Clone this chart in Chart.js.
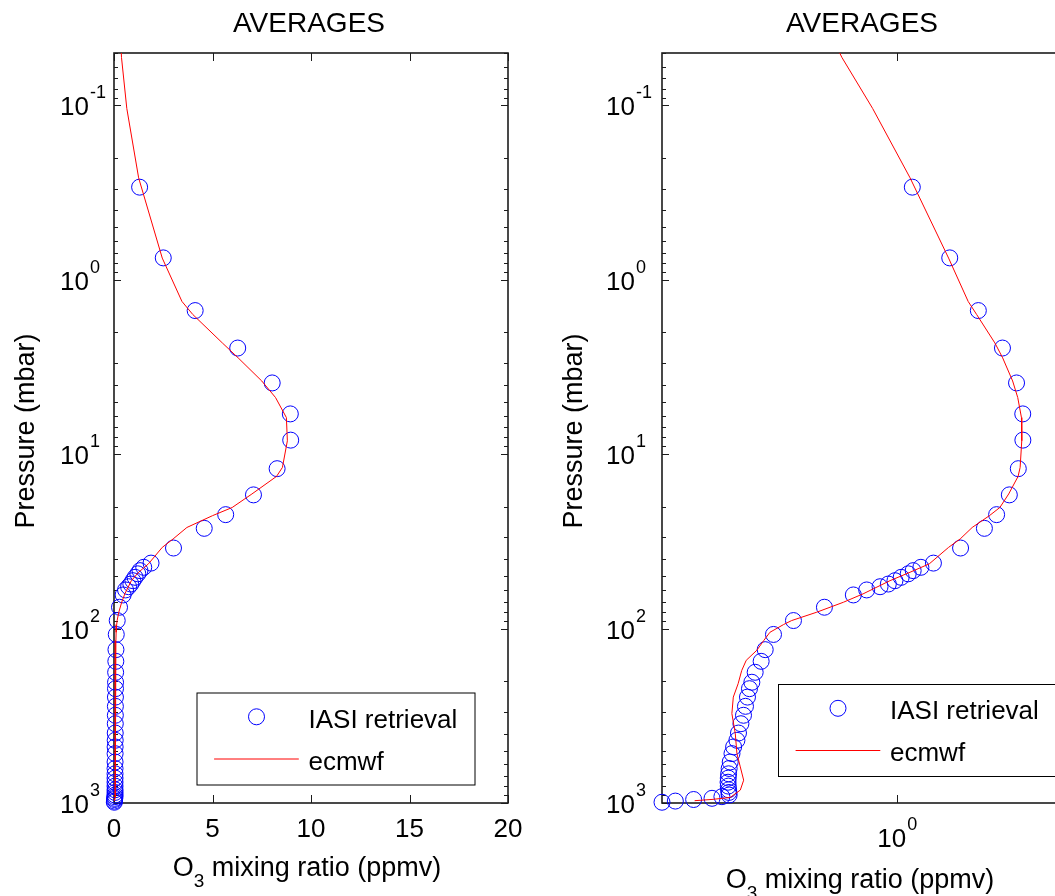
<!DOCTYPE html>
<html>
<head>
<meta charset="utf-8">
<title>AVERAGES – O3 profiles</title>
<script src="https://cdn.jsdelivr.net/npm/chart.js@4.4.1/dist/chart.umd.min.js"></script>
<style>
  html, body { margin: 0; padding: 0; background: #ffffff; overflow: hidden; }
  #wrap { position: relative; width: 1055px; height: 896px; overflow: hidden; background: #ffffff; }
  #wrap canvas { position: absolute; top: 0; }
  #linPanel { left: 0; }
  #logPanel { left: 540px; }
</style>
</head>
<body>
<div id="wrap">
  <canvas id="linPanel" width="540" height="896"></canvas>
  <canvas id="logPanel" width="560" height="896"></canvas>
</div>
<script>
// ---- Profile data: pressure levels (mbar) and ozone mixing ratio (ppmv) ----
const IASI_PRESSURE = [
  0.294, 0.748, 1.50, 2.46, 3.90, 5.87, 8.30, 12.1, 17.1, 22.2, 26.6, 34.5,
  42.1, 44.5, 46.5, 48.5, 50.8, 53.1, 55.5, 57.5, 60.0, 64.1, 75.4, 89.9,
  108, 132, 154, 178, 203, 221, 247, 279, 314, 351, 397, 437, 477, 521,
  582, 634, 680, 720, 760, 800, 840, 870, 900, 920, 940, 955, 975, 990
];
const IASI_O3 = [
  1.30, 2.50, 4.12, 6.28, 8.03, 8.95, 8.97, 8.28, 7.08, 5.67, 4.58, 3.02,
  1.88, 1.51, 1.32, 1.21, 1.07, 0.96, 0.855, 0.74, 0.586, 0.464, 0.280, 0.163,
  0.115, 0.0995, 0.0927, 0.0835, 0.0788, 0.0756, 0.0730, 0.0705, 0.0681, 0.0651, 0.0624, 0.0607, 0.0573, 0.0557,
  0.0540, 0.0530, 0.0525, 0.0522, 0.0520, 0.0522, 0.0525, 0.0528, 0.0530, 0.0467, 0.0393, 0.0285, 0.0207, 0.0164
];
const ECMWF_PRESSURE = [
  0.02, 0.053, 0.104, 0.26, 0.75, 1.33, 1.58, 2.30, 2.80, 3.80, 4.73, 6.16,
  8.37, 11.9, 13.4, 16.9, 20.2, 22.5, 26.3, 30.6, 34.2, 42.5, 47.5, 53.1,
  63.2, 70.6, 80.5, 89.9, 94.8, 105, 117, 133, 152, 174, 207, 247,
  307, 400, 521, 621, 740, 843, 929, 953, 970
];
const ECMWF_O3 = [
  0.20, 0.38, 0.65, 1.25, 2.45, 3.45, 4.0, 5.5, 6.3, 7.5, 8.2, 8.75,
  8.8, 8.55, 8.25, 7.0, 6.0, 5.0, 3.7, 3.0, 2.45, 1.75, 1.25, 0.88,
  0.55, 0.39, 0.245, 0.158, 0.137, 0.108, 0.097, 0.086, 0.0714, 0.066, 0.062, 0.057,
  0.0556, 0.059, 0.0607, 0.0644, 0.0683, 0.0644, 0.054, 0.040, 0.029
];

// ---- Axis ranges and tick labels ----
const PRESSURE_RANGE = [0.05, 1000];
const PRESSURE_DECADES = [0.1, 1, 10, 100, 1000];
const PRESSURE_EXPONENTS = ['-1', '0', '1', '2', '3'];
const LINEAR_O3_RANGE = [0, 20];
const LINEAR_O3_TICKS = [0, 5, 10, 15, 20];
const LINEAR_O3_LABELS = ['0', '5', '10', '15', '20'];
const LOG_O3_RANGE = [0.0164, 18.4];
const LOG_O3_TICKS = [1];
const LOG_O3_EXPONENTS = ['0'];

const SERIES_NAMES = ['IASI retrieval', 'ecmwf'];
const PANEL_TITLE = 'AVERAGES';
const Y_TITLE = 'Pressure (mbar)';

// ---- Styling ----
const FONT = '"Liberation Sans", Arial, Helvetica, sans-serif';
const INK = '#1c1c1c';
const BLUE = '#0000ff';
const RED = '#ff0000';

const toPoints = (xs, ps) => xs.map((v, i) => ({ x: v, y: ps[i] }));

// minor ticks of the pressure axis: 2..9 times each decade inside the range
function pressureMinorTicks() {
  const out = [];
  for (let e = -2; e <= 3; e++) {
    for (let m = 2; m <= 9; m++) {
      const v = m * Math.pow(10, e);
      if (v >= PRESSURE_RANGE[0] && v <= PRESSURE_RANGE[1]) out.push(v);
    }
  }
  return out;
}

function drawPower(ctx, exp, x, baseline, centered) {
  ctx.font = `26px ${FONT}`;
  const wb = ctx.measureText('10').width;
  ctx.font = `18px ${FONT}`;
  const we = ctx.measureText(exp).width;
  const x0 = centered ? x - (wb + 1 + we) / 2 : x;
  ctx.textAlign = 'left';
  ctx.textBaseline = 'alphabetic';
  ctx.font = `26px ${FONT}`;
  ctx.fillText('10', x0, baseline);
  ctx.font = `18px ${FONT}`;
  ctx.fillText(exp, x0 + wb + 1, baseline - 17);
}

// MATLAB-style boxed axes with inward ticks, labels, title and legend
function profileDecor(cfg) {
  return {
    id: 'profileDecor',
    beforeDatasetsDraw(chart) {
      const { ctx, chartArea: a, scales: { x, y } } = chart;
      ctx.save();
      ctx.strokeStyle = INK;
      ctx.lineWidth = 1;
      ctx.beginPath();
      for (const v of PRESSURE_DECADES) {
        const py = Math.round(y.getPixelForValue(v)) + 0.5;
        ctx.moveTo(a.left, py); ctx.lineTo(a.left + 7, py);
        ctx.moveTo(a.right, py); ctx.lineTo(a.right - 7, py);
      }
      for (const v of pressureMinorTicks()) {
        const py = Math.round(y.getPixelForValue(v)) + 0.5;
        ctx.moveTo(a.left, py); ctx.lineTo(a.left + 4, py);
        ctx.moveTo(a.right, py); ctx.lineTo(a.right - 4, py);
      }
      for (const v of cfg.xTicks) {
        const px = Math.round(x.getPixelForValue(v)) + 0.5;
        ctx.moveTo(px, a.bottom); ctx.lineTo(px, a.bottom - 8);
        ctx.moveTo(px, a.top); ctx.lineTo(px, a.top + 8);
      }
      ctx.stroke();
      ctx.lineWidth = 1.6;
      ctx.strokeRect(a.left, a.top, a.right - a.left, a.bottom - a.top);
      ctx.restore();
    },
    afterDraw(chart) {
      const { ctx, chartArea: a, scales: { x, y } } = chart;
      const cx = (a.left + a.right) / 2;
      ctx.save();
      ctx.fillStyle = '#000';

      // pressure tick labels
      PRESSURE_DECADES.forEach((v, i) => {
        const py = y.getPixelForValue(v);
        drawPower(ctx, PRESSURE_EXPONENTS[i], a.left - cfg.yLabelGap, py + 10, false);
      });

      // ozone tick labels
      cfg.xTicks.forEach((v, i) => {
        const px = x.getPixelForValue(v);
        if (cfg.xPowers) {
          drawPower(ctx, cfg.xLabels[i], px, a.bottom + 44, true);
        } else {
          ctx.font = `26px ${FONT}`;
          ctx.textAlign = 'center';
          ctx.textBaseline = 'alphabetic';
          ctx.fillText(cfg.xLabels[i], px, a.bottom + 34);
        }
      });

      // title
      ctx.font = `28px ${FONT}`;
      ctx.textAlign = 'center';
      ctx.textBaseline = 'alphabetic';
      ctx.fillText(PANEL_TITLE, cfg.titleX, 32);

      // y axis title
      ctx.save();
      ctx.translate(a.left - 80, (a.top + a.bottom) / 2 + 3);
      ctx.rotate(-Math.PI / 2);
      ctx.font = `27px ${FONT}`;
      ctx.textAlign = 'center';
      ctx.fillText(Y_TITLE, 0, 0);
      ctx.restore();

      // x axis title: O3 mixing ratio (ppmv)
      const base = a.bottom + cfg.xTitleOffset;
      ctx.textAlign = 'left';
      ctx.font = `27px ${FONT}`;
      const wO = ctx.measureText('O').width;
      const rest = ' mixing ratio (ppmv)';
      const wRest = ctx.measureText(rest).width;
      ctx.font = `19px ${FONT}`;
      const wSub = ctx.measureText('3').width;
      const x0 = cfg.xTitleX - (wO + wSub + wRest) / 2;
      ctx.font = `27px ${FONT}`;
      ctx.fillText('O', x0, base);
      ctx.fillText(rest, x0 + wO + wSub, base);
      ctx.font = `19px ${FONT}`;
      ctx.fillText('3', x0 + wO, base + 11);

      // legend
      const L = cfg.legend;
      const ds = chart.data.datasets;
      ctx.fillStyle = '#ffffff';
      ctx.fillRect(L.x, L.y, 278, 92);
      ctx.strokeStyle = '#000';
      ctx.lineWidth = 1;
      ctx.strokeRect(L.x + 0.5, L.y + 0.5, 278, 92);
      ctx.strokeStyle = ds[0].pointBorderColor;
      ctx.beginPath();
      ctx.arc(L.x + 60, L.y + 24.3, 8, 0, Math.PI * 2);
      ctx.stroke();
      ctx.strokeStyle = ds[1].borderColor;
      ctx.beginPath();
      ctx.moveTo(L.x + 17.6, L.y + 66.5);
      ctx.lineTo(L.x + 102.3, L.y + 66.5);
      ctx.stroke();
      ctx.fillStyle = '#000';
      ctx.font = `26px ${FONT}`;
      ctx.textAlign = 'left';
      ctx.fillText(ds[0].label, L.x + 112, L.y + 35.3);
      ctx.fillText(ds[1].label, L.x + 112, L.y + 77);
      ctx.restore();
    }
  };
}

function buildPanel(canvasId, xScale, padding, decor) {
  return new Chart(document.getElementById(canvasId), {
    type: 'scatter',
    data: {
      datasets: [
        {
          label: SERIES_NAMES[0],
          data: toPoints(IASI_O3, IASI_PRESSURE),
          showLine: false,
          pointStyle: 'circle',
          pointRadius: 8,
          pointHoverRadius: 8,
          pointBorderWidth: 1,
          pointBorderColor: BLUE,
          pointBackgroundColor: 'rgba(0,0,0,0)',
          clip: false,
          order: 2
        },
        {
          label: SERIES_NAMES[1],
          data: toPoints(ECMWF_O3, ECMWF_PRESSURE),
          showLine: true,
          borderColor: RED,
          borderWidth: 1,
          pointRadius: 0,
          pointHoverRadius: 0,
          tension: 0,
          fill: false,
          clip: 0,
          order: 1
        }
      ]
    },
    options: {
      responsive: false,
      animation: false,
      devicePixelRatio: 1,
      events: [],
      layout: { padding },
      plugins: {
        legend: { display: false },
        tooltip: { enabled: false },
        title: { display: false }
      },
      scales: {
        x: xScale,
        y: {
          type: 'logarithmic',
          min: PRESSURE_RANGE[0],
          max: PRESSURE_RANGE[1],
          reverse: true,
          display: false
        }
      }
    },
    plugins: [profileDecor(decor)]
  });
}

// left panel: linear ozone axis
buildPanel('linPanel',
  { type: 'linear', min: LINEAR_O3_RANGE[0], max: LINEAR_O3_RANGE[1], display: false },
  { left: 114, right: 32, top: 53, bottom: 93 },
  { xTicks: LINEAR_O3_TICKS, xLabels: LINEAR_O3_LABELS, xPowers: false,
    yLabelGap: 54, titleX: 309, xTitleX: 307, xTitleOffset: 73,
    legend: { x: 196.5, y: 692.5 } });

// right panel: logarithmic ozone axis (continues past the right page edge)
buildPanel('logPanel',
  { type: 'logarithmic', min: LOG_O3_RANGE[0], max: LOG_O3_RANGE[1], display: false },
  { left: 122, right: 36, top: 53, bottom: 93 },
  { xTicks: LOG_O3_TICKS, xLabels: LOG_O3_EXPONENTS, xPowers: true,
    yLabelGap: 56, titleX: 322, xTitleX: 320, xTitleOffset: 85,
    legend: { x: 238, y: 684 } });
</script>
</body>
</html>
